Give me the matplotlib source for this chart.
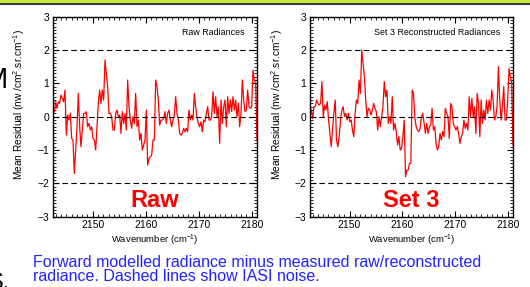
import numpy as np
import matplotlib
matplotlib.use('Agg')
import matplotlib.pyplot as plt
from matplotlib.patches import Rectangle
from matplotlib.ticker import MultipleLocator

plt.rcParams['font.family'] = ['Liberation Sans', 'DejaVu Sans']
plt.rcParams['mathtext.fontset'] = 'custom'
plt.rcParams['mathtext.rm'] = 'Liberation Sans'
plt.rcParams['mathtext.default'] = 'regular'

# mean residuals (0.25 cm-1 sampling)
raw = [0.15, 0.45, 0.25, 0.45, 0.4, 0.65, 0.55, 0.45, 0.8, -0.55, 0.05, -0.1, 0.1, -0.65, -0.7,
       -1.7, -1.0, -0.3, 0.7, -0.3, -0.9, -0.4, 0.1, 0.1, 0.15, -0.3, -0.2, -0.4, -0.3, -0.65,
       -0.7, -1.0, -0.3, 0.4, 0.8, 0.4, 0.8, 0.5, 1.7, 1.3, 0.9, 0.1, 0.1, 0.0, -0.4, -0.4, 0.1,
       0.2, 0.0, 0.05, -0.5, 0.15, -0.2, 0.1, -0.4, 1.1, 0.3, -0.1, -0.35, 0.0, -0.2, 0.7, -0.3,
       -0.1, -0.7, -0.5, -1.0, -0.85, -0.7, 0.2, -1.45, -1.25, -1.2, -1.15, -0.7, -0.7,
       1.1, 0.9, 0.5, -0.25, -0.1, -0.1, -0.05, 0.15, -0.2, 0.1, 0.2, -0.1, -0.3, -0.1, 0.05,
       0.6, 0.1, -0.1, -0.5, -0.55, -0.5, -0.35, -0.45, -0.35, -0.45, 0.2, -0.1, 0.05, -0.1,
       0.7, 0.3, 0.0, -0.2, -0.3, -0.15, -0.45, -0.1, -0.15, 0.1, 0.3, -0.1, -0.1, 0.0, 0.75,
       0.1, 0.6, 0.0, 0.3, -0.8, 0.5, -0.2, 0.3, 0.5, -0.3, 0.6, 0.1, 0.5, 0.15, 0.6, 0.2, 0.5,
       0.0, 0.4, -0.3, 0.1, 1.1, 0.5, 0.15, 0.2, 0.8, 0.3, 0.25, 0.3, 1.4, 1.1, 1.0, -0.7]

set3 = [0.2, -0.05, 0.3, 0.3, 0.5, 0.4, 0.35, 0.4, 1.05, 0.0, 0.35, 0.2, 0.45, -0.1, -0.5,
        -0.9, -0.4, 0.1, 0.5, -0.7, -0.9, -0.6, -0.1, 0.2, 0.3, 0.0, 0.1, -0.1, 0.1, -0.15,
        -0.1, -0.4, -0.6, 0.1, 0.5, 0.4, 1.1, 0.7, 2.0, 1.6, 1.2, 0.5, 0.0, 0.25, 0.2, 0.05,
        0.2, 0.4, 0.25, 0.15, -0.4, 0.0, -0.3, 0.0, 0.3, 1.05, 0.6, 0.8, -0.2, 0.0, -0.2, 0.6,
        -0.4, -0.2, -0.45, -0.85, -0.6, -1.0, -0.95, -0.6, -0.1, -1.8, -1.6, -1.6, -1.4,
        -1.4, 0.8, 0.7, 0.0, -0.3, -0.4, -0.45, -0.35, 0.0, 0.1, -0.2, -0.5, -0.2, -0.5, -0.3,
        -0.25, 0.25, -0.4, -0.3, -0.8, -1.0, -0.9, -0.5, -0.7, -0.45, -0.6, 0.25, 0.1, 0.0,
        -0.65, 0.4, 0.3, -0.2, -0.3, -0.4, -0.3, -0.5, -0.8, -0.6, -0.5, -0.1, -0.35, -0.2,
        -0.4, 0.6, 0.0, 0.55, 0.0, 0.3, -0.5, 0.7, 0.4, -0.6, 0.5, -0.2, 0.2, -0.1, 0.5, 0.1,
        0.5, 0.2, 0.8, 0.5, -0.1, 0.0, 0.3, 1.5, 0.5, -0.1, 0.3, 0.9, -0.1, -0.1, 0.5, 1.45,
        1.2, 1.0, -0.85]

noise_levels = [2, 0, -2]
panel_titles = ['Raw Radiances', 'Set 3 Reconstructed Radiances']
panel_tags = ['Raw', 'Set 3']

W, H = 530, 287
fig = plt.figure(figsize=(W / 100, H / 100), dpi=100)

# slide decoration bits around the chart
fig.add_artist(Rectangle((0, 1 - 3.4 / H), 1, 3.4 / H, color='#c8ee3c',
                         transform=fig.transFigure, lw=0))
fig.add_artist(Rectangle((0, 1 - 4.9 / H), 1, 1.5 / H, color='#3a3a3a',
                         transform=fig.transFigure, lw=0))
fig.text(8 / W, 1 - 88 / H, 'M', ha='right', va='baseline', fontsize=21)
fig.text(10 / W, 1 - 289 / H, 'S.', ha='right', va='baseline', fontsize=17)

boxes = [[53 / W, 1 - 216.7 / H, 204 / W, 200 / H],
         [310 / W, 1 - 216.7 / H, 203 / W, 200 / H]]

for box, y, title, tag in zip(boxes, [raw, set3], panel_titles, panel_tags):
    ax = fig.add_axes(box)
    wn = np.linspace(2142.75, 2181.0, len(y))
    ax.plot(wn, y, color='#ff0000', lw=0.9)
    for lev in noise_levels:
        ax.axhline(lev, color='black', lw=0.8, ls=(0, (5, 3)))
    ax.set_xlim(2142.5, 2181.0)
    ax.set_ylim(-3, 3)
    ax.xaxis.set_major_locator(MultipleLocator(10))
    ax.xaxis.set_minor_locator(MultipleLocator(1))
    ax.yaxis.set_major_locator(MultipleLocator(1))
    ax.yaxis.set_minor_locator(MultipleLocator(0.1))
    ax.ticklabel_format(useOffset=False)
    ax.tick_params(which='both', direction='in', top=True, right=True, labelsize=7.5)
    ax.tick_params(which='major', length=4, width=0.8, pad=2.5)
    ax.tick_params(which='minor', length=2, width=0.6)
    for s in ax.spines.values():
        s.set_linewidth(1.0)
    ax.set_xlabel(r'Wavenumber (cm$^{-1}$)', fontsize=6.8, labelpad=2)
    ax.set_ylabel(r'Mean Residual (nw /cm$^2$.sr.cm$^{-1}$)', fontsize=7.3, labelpad=5)
    ax.yaxis.set_label_coords(-0.125, 0.56)
    ax.text(0.937, 0.908, title, transform=ax.transAxes, ha='right', va='baseline',
            fontsize=6.4)
    ax.text(0.5, 0.05, tag, transform=ax.transAxes, ha='center', va='baseline',
            fontsize=17, fontweight='bold', color='#ff0000')

fig.text(33 / W, 1 - 267 / H, 'Forward modelled radiance minus measured raw/reconstructed',
         ha='left', va='baseline', fontsize=11.5, color='#2222ff')
fig.text(33 / W, 1 - 281 / H, 'radiance. Dashed lines show IASI noise.',
         ha='left', va='baseline', fontsize=11.5, color='#2222ff')

fig.savefig('out.png', dpi=100)
